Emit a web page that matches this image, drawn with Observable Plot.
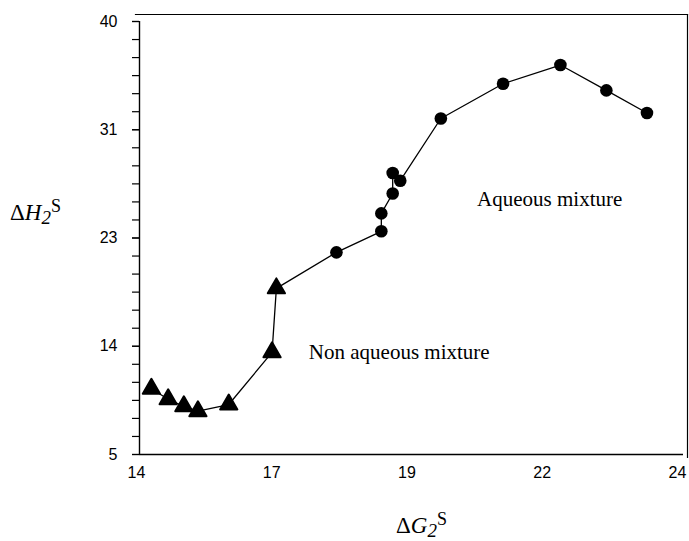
<!DOCTYPE html>
<html><head><meta charset="utf-8">
<script src="https://cdn.jsdelivr.net/npm/d3@7"></script>
<script src="https://cdn.jsdelivr.net/npm/@observablehq/plot@0.6"></script>
<style>body{margin:0;background:#fff} #chart{width:689px;height:541px}</style>
</head><body><div id="chart"></div>
<script>
// Non aqueous mixture (triangles)
const nonAqueousX = [14.22, 14.53, 14.82, 15.08, 15.65, 16.45, 16.53];
const nonAqueousY = [10.31, 9.46, 8.90, 8.50, 9.04, 13.26, 18.43];
// Aqueous mixture (circles)
const aqueousX = [17.64, 18.47, 18.47, 18.68, 18.68, 18.82, 19.57, 20.72, 21.78, 22.63, 23.38];
const aqueousY = [21.34, 23.04, 24.49, 26.10, 27.75, 27.13, 32.16, 34.97, 36.48, 34.43, 32.60];
// axes
const xTicks = [14, 16.5, 19, 21.5, 24];
const yTicks = [5, 13.75, 22.5, 31.25, 40];
const yMinorCount = 24;
// annotations
const annotLabels = ["Aqueous mixture", "Non aqueous mixture"];
const annotX = [20.24, 17.13];
const annotY = [25.65, 13.30];

const tri = nonAqueousX.map((x, i) => ({x, y: nonAqueousY[i]}));
const circ = aqueousX.map((x, i) => ({x, y: aqueousY[i]}));
const all = tri.concat(circ);
const annots = annotLabels.map((t, i) => ({t, x: annotX[i], y: annotY[i]}));
const yMinor = d3.range(yMinorCount + 1).map(i => yTicks[0] + i * (yTicks[yTicks.length-1] - yTicks[0]) / yMinorCount);

const plot = Plot.plot({
  width: 689, height: 541,
  marginLeft: 139, marginRight: 9, marginTop: 21, marginBottom: 87,
  style: {fontFamily: "Liberation Sans", fontSize: "16px", color: "#000", background: "#fff"},
  x: {domain: [14, 24]},
  y: {domain: [5, 40]},
  marks: [
    Plot.frame({anchor: "top", insetTop: -7, insetLeft: -4, insetRight: -7, stroke: "#000", strokeWidth: 1.2}),
    Plot.frame({anchor: "right", insetRight: -7, insetTop: -7, insetBottom: -3, stroke: "#000", strokeWidth: 1.2}),
    Plot.axisY(yMinor, {tickSize: 7, tickFormat: () => "", stroke: "#000", strokeWidth: 1.2, label: null}),
    Plot.axisY(yTicks, {tickSize: 7, tickPadding: 15, tickFormat: d => Math.round(d), fontSize: 16, fill: "#000", label: null, strokeWidth: 1.2}),
    Plot.axisX(xTicks, {tickSize: 0, tickPadding: 12, tickFormat: d => Math.round(d), fontSize: 16, fill: "#000", label: null, dx: -3}),
    Plot.ruleX([14], {stroke: "#000", strokeWidth: 1.4}),
    Plot.ruleY([5], {stroke: "#000", strokeWidth: 1.4, insetRight: -3}),
    Plot.line(all, {x: "x", y: "y", stroke: "#000", strokeWidth: 1.3}),
    Plot.dot(circ, {x: "x", y: "y", r: 6.3, fill: "#000", stroke: "none"}),
    Plot.dot(tri, {x: "x", y: "y", symbol: "triangle", r: 6.4, fill: "#000", stroke: "#000", strokeWidth: 2, strokeLinejoin: "round"}),
    Plot.text(annots, {x: "x", y: "y", text: "t", textAnchor: "start", fontFamily: "Liberation Serif", fontSize: 21, fill: "#000"})
  ]
});
document.getElementById("chart").appendChild(plot);

// axis titles with sub/superscripts
const svg = d3.select(plot);
function title(x, y, letter) {
  const t = svg.append("text").attr("x", x).attr("y", y).attr("text-anchor", "start")
    .attr("font-family", "Liberation Serif").attr("font-size", 23).attr("fill", "#000");
  t.append("tspan").text("Δ");
  t.append("tspan").attr("font-style", "italic").text(letter);
  t.append("tspan").attr("font-style", "italic").attr("font-size", 19).attr("dy", 4).text("2");
  t.append("tspan").attr("font-size", 18).attr("dy", -12).text("S");
}
title(10, 220, "H");
title(396, 533, "G");
</script></body></html>
